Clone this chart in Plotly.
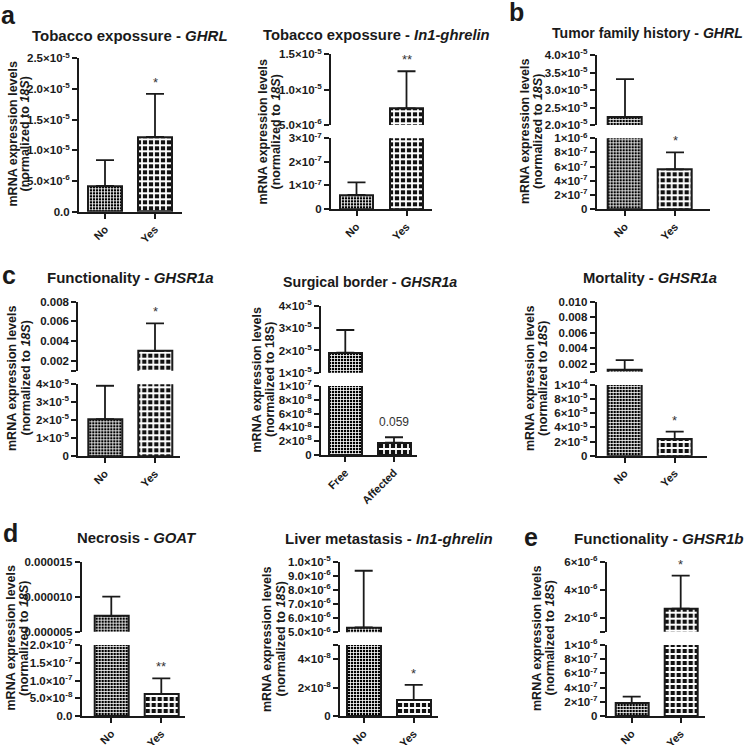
import plotly.graph_objects as go

W, H = 751, 745

# ---------------- data ----------------
cats_yn = ["No", "Yes"]
cats_border = ["Free", "Affected"]

# a (left) Tobacco exposure - GHRL
mean_a1 = [4.2e-6, 1.22e-5]
sem_a1 = [4.2e-6, 7.0e-6]
sig_a1 = ["", "*"]
tv_a1 = [0, 5e-6, 1e-5, 1.5e-5, 2e-5, 2.5e-5]
tt_a1 = ["0.0", "5.0×10<sup>-6</sup>", "1.0×10<sup>-5</sup>", "1.5×10<sup>-5</sup>",
         "2.0×10<sup>-5</sup>", "2.5×10<sup>-5</sup>"]

# a (right) Tobacco exposure - In1-ghrelin
mean_a2 = [6.0e-8, 7.36e-6]
sem_a2 = [5.3e-8, 5.24e-6]
sig_a2 = ["", "**"]
tv_a2_up = [5e-6, 1e-5, 1.5e-5]
tt_a2_up = ["5.0×10<sup>-6</sup>", "1.0×10<sup>-5</sup>", "1.5×10<sup>-5</sup>"]
tv_a2_lo = [0, 1e-7, 2e-7, 3e-7]
tt_a2_lo = ["0", "1×10<sup>-7</sup>", "2×10<sup>-7</sup>", "3×10<sup>-7</sup>"]

# b Tumor family history - GHRL
mean_b = [2.22e-5, 5.6e-7]
sem_b = [1.09e-5, 2.4e-7]
sig_b = ["", "*"]
tv_b_up = [2e-5, 2.5e-5, 3e-5, 3.5e-5, 4e-5]
tt_b_up = ["2.0×10<sup>-5</sup>", "2.5×10<sup>-5</sup>", "3.0×10<sup>-5</sup>",
           "3.5×10<sup>-5</sup>", "4.0×10<sup>-5</sup>"]
tv_b_lo = [0, 2e-7, 4e-7, 6e-7, 8e-7, 1e-6]
tt_b_lo = ["0", "2×10<sup>-7</sup>", "4×10<sup>-7</sup>", "6×10<sup>-7</sup>",
           "8×10<sup>-7</sup>", "1×10<sup>-6</sup>"]

# c (left) Functionality - GHSR1a
mean_c1 = [2.06e-5, 0.003]
sem_c1 = [1.86e-5, 0.0028]
sig_c1 = ["", "*"]
tv_c1_up = [0.001, 0.002, 0.004, 0.006, 0.008]
tt_c1_up = ["", "0.002", "0.004", "0.006", "0.008"]
tv_c1_lo = [0, 1e-5, 2e-5, 3e-5, 4e-5]
tt_c1_lo = ["0", "1×10<sup>-5</sup>", "2×10<sup>-5</sup>", "3×10<sup>-5</sup>", "4×10<sup>-5</sup>"]

# c (middle) Surgical border - GHSR1a
mean_c2 = [1.9e-5, 1.78e-8]
sem_c2 = [1.02e-5, 7.9e-9]
sig_c2 = ["", "0.059"]
tv_c2_up = [1e-5, 2e-5, 3e-5, 4e-5]
tt_c2_up = ["1×10<sup>-5</sup>", "2×10<sup>-5</sup>", "3×10<sup>-5</sup>", "4×10<sup>-5</sup>"]
tv_c2_lo = [0, 2e-8, 4e-8, 6e-8, 8e-8, 1e-7]
tt_c2_lo = ["0", "2×10<sup>-8</sup>", "4×10<sup>-8</sup>", "6×10<sup>-8</sup>",
            "8×10<sup>-8</sup>", "1×10<sup>-7</sup>"]

# c (right) Mortality - GHSR1a
mean_c3 = [0.0012, 2.32e-5]
sem_c3 = [0.0013, 1.08e-5]
sig_c3 = ["", "*"]
tv_c3_up = [0.001, 0.002, 0.004, 0.006, 0.008, 0.010]
tt_c3_up = ["", "0.002", "0.004", "0.006", "0.008", "0.010"]
tv_c3_lo = [0, 2e-5, 4e-5, 6e-5, 8e-5, 1e-4]
tt_c3_lo = ["0", "2×10<sup>-5</sup>", "4×10<sup>-5</sup>", "6×10<sup>-5</sup>",
            "8×10<sup>-5</sup>", "1×10<sup>-4</sup>"]

# d (left) Necrosis - GOAT
mean_d1 = [7.24e-6, 6.2e-8]
sem_d1 = [2.76e-6, 4.4e-8]
sig_d1 = ["", "**"]
tv_d1_up = [5e-6, 1e-5, 1.5e-5]
tt_d1_up = ["0.000005", "0.000010", "0.000015"]
tv_d1_lo = [0, 5e-8, 1e-7, 1.5e-7, 2e-7]
tt_d1_lo = ["0.0", "5.0×10<sup>-8</sup>", "1.0×10<sup>-7</sup>", "1.5×10<sup>-7</sup>",
            "2.0×10<sup>-7</sup>"]

# d (middle) Liver metastasis - In1-ghrelin
mean_d2 = [5.35e-6, 1.13e-8]
sem_d2 = [4.01e-6, 1.06e-8]
sig_d2 = ["", "*"]
tv_d2_up = [5e-6, 6e-6, 7e-6, 8e-6, 9e-6, 1e-5]
tt_d2_up = ["5.0×10<sup>-6</sup>", "6.0×10<sup>-6</sup>", "7.0×10<sup>-6</sup>",
            "8.0×10<sup>-6</sup>", "9.0×10<sup>-6</sup>", "1.0×10<sup>-5</sup>"]
tv_d2_lo = [0, 2e-8, 4e-8, 5e-8]
tt_d2_lo = ["0", "2×10<sup>-8</sup>", "4×10<sup>-8</sup>", ""]

# e Functionality - GHSR1b
mean_e = [1.79e-7, 2.65e-6]
sem_e = [9.3e-8, 2.35e-6]
sig_e = ["", "*"]
tv_e_up = [1e-6, 2e-6, 4e-6, 6e-6]
tt_e_up = ["", "2×10<sup>-6</sup>", "4×10<sup>-6</sup>", "6×10<sup>-6</sup>"]
tv_e_lo = [0, 2e-7, 4e-7, 6e-7, 8e-7, 1e-6]
tt_e_lo = ["0", "2×10<sup>-7</sup>", "4×10<sup>-7</sup>", "6×10<sup>-7</sup>",
           "8×10<sup>-7</sup>", "1×10<sup>-6</sup>"]

YT1 = "mRNA expression levels"
YT2 = "(normalized to <i>18S</i>)"
YT2_plain = "(normalized to 18S)"

# ---------------- layout geometry (pixels) ----------------
panels = [
    dict(cats=cats_yn, mean=mean_a1, sem=sem_a1, sig=sig_a1,
         ax=79, xe=182, c=(105, 155), bw=34,
         lo=([0, 2.5e-5], (211.7, 58.3), tv_a1, tt_a1), up=None,
         title="Tobacco expossure - <i>GHRL</i>", tpos=(130, 35), ts=15,
         yt=(13, 25, 134.5), yt2=YT2),
    dict(cats=cats_yn, mean=mean_a2, sem=sem_a2, sig=sig_a2,
         ax=331, xe=431.7, c=(356.5, 406.5), bw=33,
         lo=([0, 3e-7], (209, 138.3), tv_a2_lo, tt_a2_lo),
         up=([5e-6, 1.5e-5], (125, 54.3), tv_a2_up, tt_a2_up),
         title="Tobacco expossure - <i>In1-ghrelin</i>", tpos=(376, 35), ts=14.8,
         yt=(262, 275, 132.5), yt2=YT2),
    dict(cats=cats_yn, mean=mean_b, sem=sem_b, sig=sig_b,
         ax=596.7, xe=710, c=(625, 675), bw=34,
         lo=([0, 1e-6], (209, 138.3), tv_b_lo, tt_b_lo),
         up=([2e-5, 4e-5], (125, 55), tv_b_up, tt_b_up),
         title="Tumor family history - <i>GHRL</i>", tpos=(647, 33), ts=14.1,
         yt=(525, 538, 132), yt2=YT2),
    dict(cats=cats_yn, mean=mean_c1, sem=sem_c1, sig=sig_c1,
         ax=78.3, xe=180, c=(105, 155), bw=34,
         lo=([0, 4e-5], (456, 384.3), tv_c1_lo, tt_c1_lo),
         up=([0.001, 0.008], (370.7, 301.7), tv_c1_up, tt_c1_up),
         title="Functionality - <i>GHSR1a</i>", tpos=(130, 278), ts=15,
         yt=(11.5, 25, 378.5), yt2=YT2),
    dict(cats=cats_border, mean=mean_c2, sem=sem_c2, sig=sig_c2,
         ax=321, xe=416.7, c=(345.3, 394), bw=33,
         lo=([0, 1e-7], (455, 386), tv_c2_lo, tt_c2_lo),
         up=([1e-5, 4e-5], (372.7, 306), tv_c2_up, tt_c2_up),
         title="Surgical border - <i>GHSR1a</i>", tpos=(370, 282), ts=14.2,
         yt=(256.5, 270, 380), yt2=YT2_plain),
    dict(cats=cats_yn, mean=mean_c3, sem=sem_c3, sig=sig_c3,
         ax=596.7, xe=706.7, c=(624.7, 674.7), bw=34,
         lo=([0, 1e-4], (455.7, 385), tv_c3_lo, tt_c3_lo),
         up=([0.001, 0.010], (371.7, 301.7), tv_c3_up, tt_c3_up),
         title="Mortality - <i>GHSR1a</i>", tpos=(650, 278), ts=14.8,
         yt=(530, 543, 379), yt2=YT2),
    dict(cats=cats_yn, mean=mean_d1, sem=sem_d1, sig=sig_d1,
         ax=81.7, xe=185, c=(111.3, 161.3), bw=34,
         lo=([0, 2e-7], (716, 645), tv_d1_lo, tt_d1_lo),
         up=([5e-6, 1.5e-5], (631.7, 561.7), tv_d1_up, tt_d1_up),
         title="Necrosis - <i>GOAT</i>", tpos=(137, 538), ts=14.9,
         yt=(10, 23.5, 638.5), yt2=YT2),
    dict(cats=cats_yn, mean=mean_d2, sem=sem_d2, sig=sig_d2,
         ax=340, xe=438.3, c=(363.7, 413.7), bw=34,
         lo=([0, 5e-8], (716, 645), tv_d2_lo, tt_d2_lo),
         up=([5e-6, 1e-5], (632.3, 561.7), tv_d2_up, tt_d2_up),
         title="Liver metastasis - <i>In1-ghrelin</i>", tpos=(389, 538), ts=15,
         yt=(266.5, 280, 639.5), yt2=YT2),
    dict(cats=cats_yn, mean=mean_e, sem=sem_e, sig=sig_e,
         ax=606.7, xe=705, c=(631.7, 680.7), bw=33,
         lo=([0, 1e-6], (716, 645), tv_e_lo, tt_e_lo),
         up=([1e-6, 6e-6], (631.7, 561.7), tv_e_up, tt_e_up),
         title="Functionality - <i>GHSR1b</i>", tpos=(659, 538), ts=15.2,
         yt=(536.5, 549, 638.5), yt2=YT2),
]

letters = [("a", 8, 15), ("b", 516, 12), ("c", 9, 275), ("d", 10, 533), ("e", 531, 537)]

FONT = "Liberation Sans, Arial, Helvetica, sans-serif"
INK = "#1a1a1a"
TICKFONT = dict(family=FONT, size=11.5, color=INK, weight="bold")
XTICKFONT = dict(family=FONT, size=11, color=INK, weight="bold")


def px2x(p):
    return p / W


def px2y(p):
    return 1 - p / H


fig = go.Figure()
layout = dict(template="none", width=W, height=H, margin=dict(l=0, r=0, t=0, b=0, pad=0),
              paper_bgcolor="white", plot_bgcolor="white", showlegend=False,
              bargap=0)
annotations = []
n = 0

fine = dict(shape="+", size=3, solidity=0.45, fgcolor="white", bgcolor="#000000")
coarse = dict(shape="+", size=6, solidity=0.5, fgcolor="white", bgcolor="#111111")

for p in panels:
    unit = p["c"][1] - p["c"][0]
    xr = [(p["ax"] - p["c"][0]) / unit, 1 + (p["xe"] - p["c"][1]) / unit]
    xdom = [px2x(p["ax"]), px2x(p["xe"])]
    width = p["bw"] / unit
    parts = [("lo", p["lo"])]
    if p["up"] is not None:
        parts.append(("up", p["up"]))
    axes_of = {}
    for kind, (yr, (pb, pt), tv, tt) in parts:
        n += 1
        sx = "" if n == 1 else str(n)
        axes_of[kind] = (sx, yr)
        for i, cat in enumerate(p["cats"]):
            fig.add_trace(go.Bar(
                x=[cat], y=[p["mean"][i]], width=[width],
                xaxis="x" + sx, yaxis="y" + sx,
                marker=dict(color="white", line=dict(color=INK, width=2),
                            pattern=fine if i == 0 else coarse),
                error_y=dict(type="data", symmetric=False, array=[p["sem"][i]],
                             arrayminus=[0], color=INK, thickness=1.8, width=9),
                cliponaxis=True, hoverinfo="skip"))
        layout["xaxis" + sx] = dict(
            domain=xdom, anchor="y" + sx, range=xr, type="category",
            categoryorder="array", categoryarray=p["cats"], automargin=False,
            visible=(kind == "lo"), showline=True, linewidth=2, linecolor=INK,
            ticks="outside", ticklen=5, tickwidth=2, tickcolor=INK,
            tickangle=-45, tickfont=XTICKFONT, showgrid=False, zeroline=False,
            fixedrange=True)
        layout["yaxis" + sx] = dict(
            domain=[px2y(pb), px2y(pt)], anchor="x" + sx, range=yr, automargin=False,
            tickmode="array", tickvals=tv, ticktext=tt,
            showline=True, linewidth=2, linecolor=INK,
            ticks="outside", ticklen=5, tickwidth=2, tickcolor=INK,
            tickfont=TICKFONT, showgrid=False, zeroline=False, fixedrange=True)
    # significance marks
    for i, s in enumerate(p["sig"]):
        if not s:
            continue
        top = p["mean"][i] + p["sem"][i]
        kind = "lo"
        if "up" in axes_of and top >= axes_of["up"][1][0]:
            kind = "up"
        sx = axes_of[kind][0]
        annotations.append(dict(
            x=p["cats"][i], y=top, xref="x" + sx, yref="y" + sx,
            text=s, showarrow=False, yanchor="bottom", yshift=2 if s != "0.059" else 6,
            font=dict(family=FONT, size=13 if s != "0.059" else 12, color="#333333")))
    # title
    annotations.append(dict(
        x=px2x(p["tpos"][0]), y=px2y(p["tpos"][1]), xref="paper", yref="paper",
        text="<b>" + p["title"] + "</b>", showarrow=False,
        xanchor="center", yanchor="middle",
        font=dict(family=FONT, size=p["ts"], color=INK)))
    # y title (two lines)
    x1, x2, yc = p["yt"]
    for xx, txt in ((x1, YT1), (x2, p["yt2"])):
        annotations.append(dict(
            x=px2x(xx), y=px2y(yc), xref="paper", yref="paper",
            text="<b>" + txt + "</b>", showarrow=False, textangle=-90,
            xanchor="center", yanchor="middle",
            font=dict(family=FONT, size=12.5, color=INK)))

for t, xx, yy in letters:
    annotations.append(dict(
        x=px2x(xx), y=px2y(yy), xref="paper", yref="paper", text="<b>" + t + "</b>",
        showarrow=False, xanchor="center", yanchor="middle",
        font=dict(family=FONT, size=25, color=INK)))

layout["annotations"] = annotations
fig.update_layout(**layout)
fig.write_html("out.html", config={"displayModeBar": False},
               post_script="document.body.style.margin='0';document.body.style.overflow='hidden';")
